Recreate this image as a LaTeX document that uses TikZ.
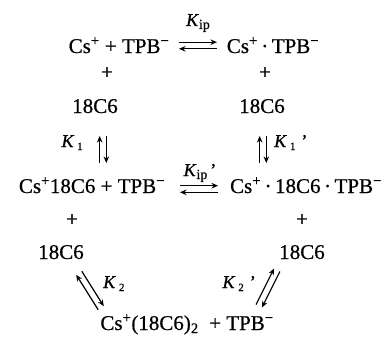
\documentclass[tikz,border=0pt]{standalone}
\usepackage{fontspec}
\setmainfont{Liberation Serif}[FakeBold=0.6]
\usetikzlibrary{arrows.meta, calc}

\begin{document}
\begin{tikzpicture}[x=1pt, y=-1pt,
  spc/.style={anchor=base, inner sep=0pt, font=\fontsize{21}{25}\selectfont},
  plus/.style={inner sep=0pt, font=\fontsize{21}{25}\selectfont},
  kay/.style={inner sep=0pt, font=\fontsize{18}{20}\selectfont},
  arr/.style={-{Stealth[length=6.5pt, width=5.5pt]}, line width=1.2pt}
]
  \useasboundingbox (0,0) rectangle (385,337);

  % species
  \node[spc] (free) at (119,53) {Cs\textsuperscript{+} + TPB\textsuperscript{−}};
  \node[spc] (pair) at (273,53) {Cs\textsuperscript{+}\,·\,TPB\textsuperscript{−}};
  \node[plus] (p1) at (107,73) {+};
  \node[plus] (p2) at (265,73) {+};
  \node[spc] (crA) at (95,113) {18C6};
  \node[spc] (crB) at (262,113) {18C6};
  \node[spc] (cplx) at (92,193) {Cs\textsuperscript{+}18C6 + TPB\textsuperscript{−}};
  \node[spc] (cpair) at (306,193) {Cs\textsuperscript{+}\,·\,18C6\,·\,TPB\textsuperscript{−}};
  \node[plus] (p3) at (72,220) {+};
  \node[plus] (p4) at (302,220) {+};
  \node[spc] (crC) at (61,259) {18C6};
  \node[spc] (crD) at (302,259) {18C6};
  \node[spc] (sand) at (187,330) {Cs\textsuperscript{+}(18C6)\textsubscript{2}\ \ + TPB\textsuperscript{−}};

  % constants
  \node[kay, anchor=base] (kip) at (198,26) {\textit{K}\raisebox{-3pt}{\fontsize{14}{14}\selectfont ip}};
  \node[kay, anchor=base east] (k1) at (83,147) {\textit{K}\,\raisebox{-3pt}{\fontsize{11}{11}\selectfont 1}};
  \node[kay, anchor=base west] (k1p) at (274,147) {\textit{K}\,\raisebox{-3pt}{\fontsize{11}{11}\selectfont 1}\,\,'};
  \node[kay, anchor=base] (kipp) at (200,176) {\textit{K}\raisebox{-3pt}{\fontsize{14}{14}\selectfont ip}\,'};
  \node[kay, anchor=base west] (k2) at (103,288) {\textit{K}\,\raisebox{-3pt}{\fontsize{11}{11}\selectfont 2}};
  \node[kay, anchor=base east] (k2p) at (256,288) {\textit{K}\,\raisebox{-3pt}{\fontsize{11}{11}\selectfont 2}\,\,'};

  % ends of the equilibrium arrows
  \coordinate (ipL) at (179,45.5);  \coordinate (ipR) at (217,45.5);
  \coordinate (aT) at (103,136);    \coordinate (aB) at (103,163);
  \coordinate (bT) at (263,136);    \coordinate (bB) at (263,163);
  \coordinate (ippL) at (180,189);  \coordinate (ippR) at (218,189);
  \coordinate (cT) at (79,273);     \coordinate (cB) at (101,308);
  \coordinate (dT) at (277,270);    \coordinate (dB) at (259,306);

  \foreach \a/\b in {ipL/ipR, aT/aB, bT/bB, ippL/ippR, cT/cB, dT/dB} {
    \draw[arr] ($(\a)!3.3pt!90:(\b)$) -- ($(\b)!3.3pt!-90:(\a)$);
    \draw[arr] ($(\b)!3.3pt!90:(\a)$) -- ($(\a)!3.3pt!-90:(\b)$);
  }
\end{tikzpicture}
\end{document}
